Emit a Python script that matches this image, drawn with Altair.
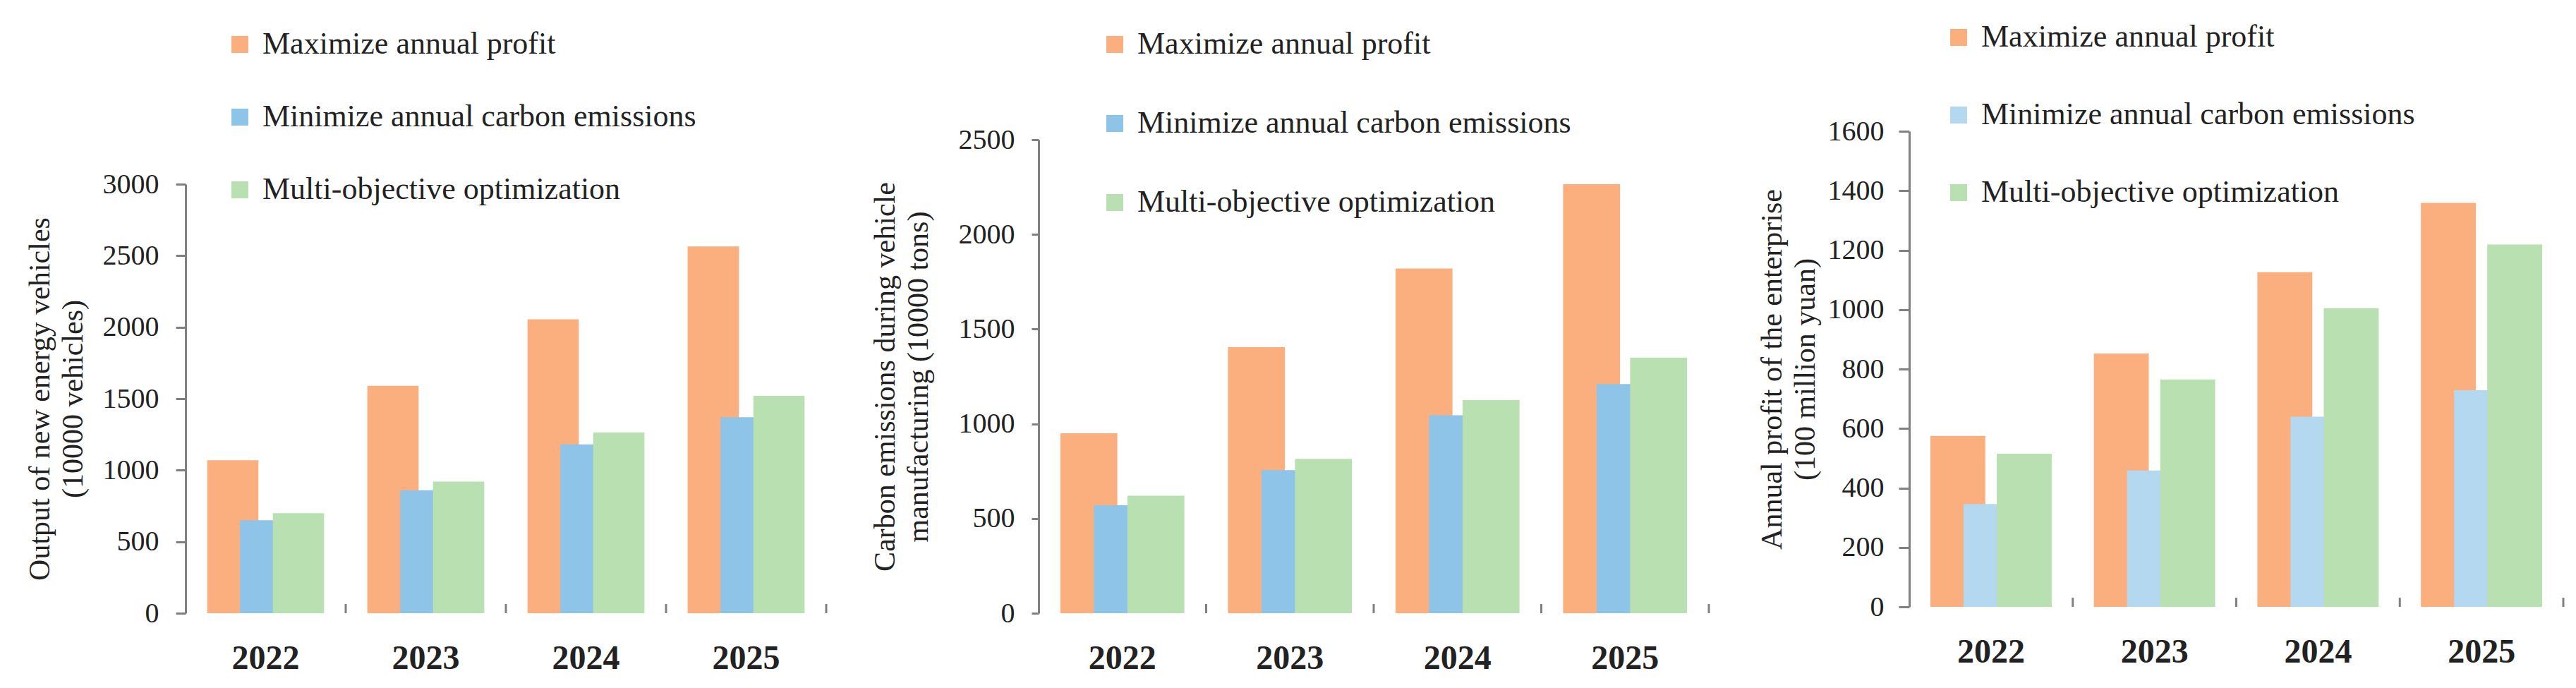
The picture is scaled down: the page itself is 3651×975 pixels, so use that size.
import altair as alt
import pandas as pd

# ---------------- data ----------------
years = ["2022", "2023", "2024", "2025"]
series = ["Maximize annual profit", "Minimize annual carbon emissions", "Multi-objective optimization"]

# Panel 1: output of new energy vehicles (10000 vehicles)
output_max_profit = [1070, 1590, 2055, 2565]
output_min_carbon = [650, 860, 1180, 1370]
output_multi = [700, 920, 1265, 1520]
output_ticks = [0, 500, 1000, 1500, 2000, 2500, 3000]
output_title = ["Output of new energy vehicles", "(10000 vehicles)"]

# Panel 2: carbon emissions during vehicle manufacturing (10000 tons)
carbon_max_profit = [950, 1405, 1820, 2265]
carbon_min_carbon = [570, 755, 1045, 1210]
carbon_multi = [620, 815, 1125, 1350]
carbon_ticks = [0, 500, 1000, 1500, 2000, 2500]
carbon_title = ["Carbon emissions during vehicle", "manufacturing (10000 tons)"]

# Panel 3: annual profit of the enterprise (100 million yuan)
profit_max_profit = [575, 852, 1126, 1359]
profit_min_carbon = [346, 459, 640, 729]
profit_multi = [515, 765, 1005, 1219]
profit_ticks = [0, 200, 400, 600, 800, 1000, 1200, 1400, 1600]
profit_title = ["Annual profit of the enterprise", "(100 million yuan)"]

# ---------------- style ----------------
FONT = "Liberation Serif"
AXIS_COLOR = "#808080"
TEXT_COLOR = "#222222"
ORANGE = "#FBAF7E"
BLUE = "#8DC4E8"
LIGHT_BLUE = "#B4D8EF"
GREEN = "#B8E0B0"
H = 683


def panel(vals, title_lines, ticks, width, yrange, colors, bar_frac, step_frac,
          legend_x, legend_y, row_pad, tick_size, label_pad, title_pad, x_off=0):
    df = pd.DataFrame({
        "year": years * 3,
        "series": [s for s in series for _ in years],
        "value": vals[0] + vals[1] + vals[2],
    })
    band = width / len(years)
    step = band * step_frac
    xscale = alt.Scale(paddingInner=0, paddingOuter=0)
    xenc = alt.X("year:N", sort=years, scale=xscale,
                 axis=alt.Axis(title=None, labels=False, ticks=False,
                               domainColor=AXIS_COLOR, domainWidth=3,
                               offset=x_off, grid=False))
    yenc = alt.Y("value:Q",
                 scale=alt.Scale(domain=[0, ticks[-1]], range=yrange, nice=False, zero=True),
                 axis=alt.Axis(values=ticks, format="d", grid=False,
                               domainColor=AXIS_COLOR, domainWidth=3,
                               tickColor=AXIS_COLOR, tickWidth=3, tickSize=tick_size,
                               labelFont=FONT, labelFontSize=40, labelColor=TEXT_COLOR,
                               labelPadding=label_pad,
                               title=title_lines, titleFont=FONT, titleFontSize=42,
                               titleFontWeight="normal", titleColor=TEXT_COLOR,
                               titlePadding=title_pad, titleLineHeight=47))
    color = alt.Color("series:N",
                      scale=alt.Scale(domain=series, range=colors),
                      legend=alt.Legend(title=None, orient="none", legendX=legend_x, legendY=legend_y,
                                        direction="vertical", symbolType="square", symbolSize=576,
                                        symbolStrokeWidth=0, symbolOpacity=1,
                                        labelFont=FONT, labelFontSize=44, labelColor=TEXT_COLOR,
                                        labelLimit=0, labelOffset=10, rowPadding=row_pad,
                                        padding=0, offset=0))
    layers = []
    for i, s in enumerate(series):
        layers.append(
            alt.Chart(df)
            .transform_filter(alt.datum.series == s)
            .mark_bar(width=alt.RelativeBandSize(bar_frac), xOffset=(i - 1) * step)
            .encode(x=xenc, y=yenc, color=color)
        )
    base = yrange[0]
    tick_df = pd.DataFrame({"year": years})
    rules_start = (
        alt.Chart(tick_df)
        .transform_filter(alt.datum.year != years[0])
        .mark_rule(color=AXIS_COLOR, strokeWidth=3)
        .encode(x=alt.X("year:N", sort=years, bandPosition=0, axis=None),
                y=alt.value(base), y2=alt.value(base - 13))
    )
    rules_end = (
        alt.Chart(tick_df)
        .transform_filter(alt.datum.year == years[-1])
        .mark_rule(color=AXIS_COLOR, strokeWidth=3)
        .encode(x=alt.X("year:N", sort=years, bandPosition=1, axis=None),
                y=alt.value(base), y2=alt.value(base - 13))
    )
    year_labels = (
        alt.Chart(tick_df)
        .mark_text(font=FONT, fontSize=48, fontWeight="bold", color=TEXT_COLOR,
                   baseline="top", align="center")
        .encode(x=alt.X("year:N", sort=years, axis=None),
                y=alt.value(base + 41), text="year:N")
    )
    return alt.layer(*layers, rules_start, rules_end, year_labels).properties(width=width, height=H)


p1 = panel([output_max_profit, output_min_carbon, output_multi], output_title, output_ticks,
           908, [683, 75], [ORANGE, BLUE, GREEN], 0.32, 0.205,
           55, -145, 59, 14, 24, 20)
p2 = panel([carbon_max_profit, carbon_min_carbon, carbon_multi], carbon_title, carbon_ticks,
           950, [683, 12], [ORANGE, BLUE, GREEN], 0.34, 0.20,
           86, -145, 68, 10, 24, 35)
p3 = panel([profit_max_profit, profit_min_carbon, profit_multi], profit_title, profit_ticks,
           927, [674, 0], [ORANGE, LIGHT_BLUE, GREEN], 0.336, 0.203,
           48, -155, 66, 15, 21, 10, x_off=-9)

inner = alt.hconcat(p1, p2, spacing=60).resolve_scale(x="independent", y="independent", color="independent")
chart = (
    alt.hconcat(inner, p3, spacing=66)
    .resolve_scale(x="independent", y="independent", color="independent")
    .properties(padding={"top": 23, "left": 27, "right": 5, "bottom": 5}, background="white")
    .configure_view(stroke=None)
)

chart.save("out.html", embed_options={"renderer": "svg", "actions": False})
